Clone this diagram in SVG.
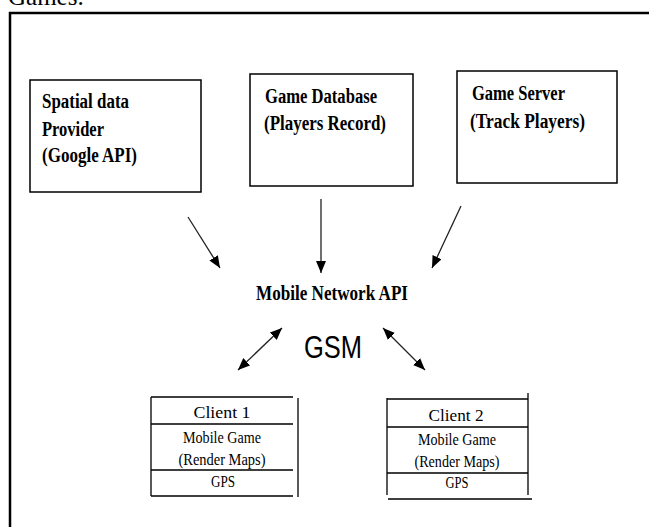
<svg xmlns="http://www.w3.org/2000/svg" width="649" height="527" viewBox="0 0 649 527">
<style>
.bx{fill:#fff;stroke:#000;stroke-width:1.5}
.hd{font-family:"Liberation Serif","Times New Roman",serif;font-weight:bold;font-size:20px;fill:#000}
.cl{font-family:"Liberation Serif","Times New Roman",serif;font-size:17px;fill:#000;text-anchor:middle}
.ln{stroke:#000;stroke-width:1.3;fill:none}
.ar{stroke:#222;stroke-width:1.3;fill:none;marker-end:url(#ah)}
.ar2{stroke:#222;stroke-width:1.3;fill:none;marker-end:url(#ah);marker-start:url(#ahs)}
</style>
<defs>
<marker id="ah" viewBox="0 0 12 10" refX="12" refY="5" markerWidth="12" markerHeight="10" markerUnits="userSpaceOnUse" orient="auto">
<path d="M0,0 L12,5 L0,10 z" fill="#000"/>
</marker>
<marker id="ahs" viewBox="0 0 12 10" refX="0" refY="5" markerWidth="12" markerHeight="10" markerUnits="userSpaceOnUse" orient="auto">
<path d="M12,0 L0,5 L12,10 z" fill="#000"/>
</marker>
</defs>
<rect width="649" height="527" fill="#fff"/>
<text x="8" y="5" font-family="Liberation Serif, serif" font-size="25" fill="#000">Games.</text>
<path d="M10,527 V13 H649" fill="none" stroke="#000" stroke-width="2.5"/>

<g id="spatial">
<rect class="bx" x="30" y="80" width="171" height="112"/>
<text class="hd" x="42" y="108" textLength="87" lengthAdjust="spacingAndGlyphs">Spatial data</text>
<text class="hd" x="42" y="136" textLength="62" lengthAdjust="spacingAndGlyphs">Provider</text>
<text class="hd" x="42" y="162" textLength="95" lengthAdjust="spacingAndGlyphs">(Google API)</text>
</g>
<g id="gamedb">
<rect class="bx" x="250" y="74" width="163" height="112"/>
<text class="hd" x="265" y="103" textLength="112" lengthAdjust="spacingAndGlyphs">Game Database</text>
<text class="hd" x="264" y="130" textLength="122" lengthAdjust="spacingAndGlyphs">(Players Record)</text>
</g>
<g id="gameserver">
<rect class="bx" x="457" y="71" width="160" height="112"/>
<text class="hd" x="472" y="100" textLength="93" lengthAdjust="spacingAndGlyphs">Game Server</text>
<text class="hd" x="470" y="128" textLength="115" lengthAdjust="spacingAndGlyphs">(Track Players)</text>
</g>
<g id="mobileapi">
<text class="hd" x="256" y="300" font-size="19" textLength="152" lengthAdjust="spacingAndGlyphs">Mobile Network API</text>
</g>
<g id="gsm">
<text x="304" y="358" font-family="Liberation Sans, Arial, sans-serif" font-size="32" fill="#000" textLength="58" lengthAdjust="spacingAndGlyphs">GSM</text>
</g>
<g id="client1">
<path class="ln" d="M151,397 H293 M151,424 H293 M151,470 H293 M151,496 H293 M151,397 V496 M298,398 V497"/>
<text class="cl" x="222" y="418" font-size="18" textLength="57" lengthAdjust="spacingAndGlyphs">Client 1</text>
<text class="cl" x="222" y="443" textLength="78" lengthAdjust="spacingAndGlyphs">Mobile Game</text>
<text class="cl" x="222" y="465" textLength="87" lengthAdjust="spacingAndGlyphs">(Render Maps)</text>
<text class="cl" x="223" y="487" textLength="24" lengthAdjust="spacingAndGlyphs">GPS</text>
</g>
<g id="client2">
<path class="ln" d="M387,399 H528 M387,427 H528 M387,473 H528 M388,499 H532 M387,398 V495 M528,393 V495"/>
<text class="cl" x="456" y="421" font-size="18" textLength="55" lengthAdjust="spacingAndGlyphs">Client 2</text>
<text class="cl" x="457" y="445" textLength="78" lengthAdjust="spacingAndGlyphs">Mobile Game</text>
<text class="cl" x="457" y="467" textLength="85" lengthAdjust="spacingAndGlyphs">(Render Maps)</text>
<text class="cl" x="457" y="488" textLength="23" lengthAdjust="spacingAndGlyphs">GPS</text>
</g>
<g id="connectors">
<line class="ar" x1="188" y1="217" x2="220" y2="268"/>
<line class="ar" x1="321" y1="199" x2="321" y2="273"/>
<line class="ar" x1="461" y1="206" x2="432" y2="268"/>
<line class="ar2" x1="238" y1="370" x2="282" y2="328"/>
<line class="ar2" x1="425" y1="370" x2="383" y2="328"/>
</g>
</svg>
